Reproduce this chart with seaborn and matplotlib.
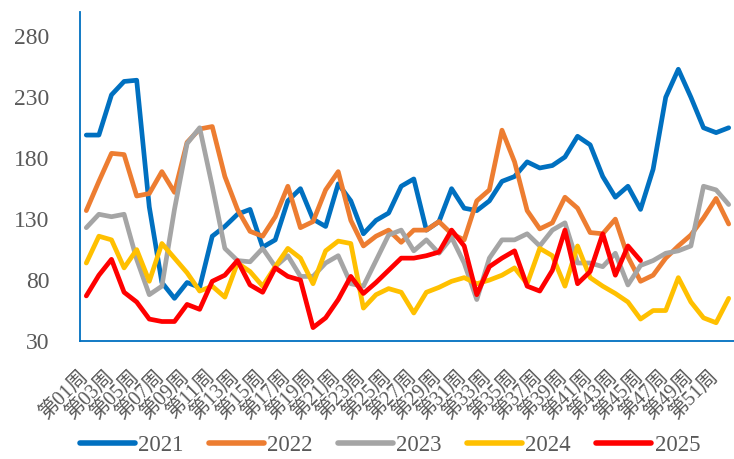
import matplotlib

matplotlib.use("Agg")
import matplotlib.pyplot as plt
import numpy as np
import pandas as pd
import seaborn as sns

weeks = [f"第{i:02d}周" for i in range(1, 53)]
years = ["2021", "2022", "2023", "2024", "2025"]

v2021 = [199, 199, 232, 243, 244, 140, 78, 65, 78, 74, 116, 124, 134, 138, 107, 113,
         145, 155, 130, 124, 159, 145, 118, 129, 135, 157, 163, 121, 128, 155, 139, 137,
         145, 161, 165, 177, 172, 174, 181, 198, 191, 165, 148, 157, 138, 171, 230, 253,
         230, 205, 201, 205]
v2022 = [137, 161, 184, 183, 149, 151, 169, 152, 193, 204, 206, 165, 138, 120, 116, 132,
         157, 123, 128, 154, 169, 129, 108, 116, 121, 111, 121, 121, 128, 118, 113, 145,
         154, 203, 177, 137, 122, 127, 148, 139, 119, 118, 130, 99, 79, 84, 98, 108,
         117, 131, 147, 126]
v2023 = [123, 134, 132, 134, 97, 68, 75, 138, 192, 205, 157, 106, 96, 95, 106, 91,
         100, 83, 83, 94, 100, 77, 75, 96, 117, 121, 104, 113, 102, 115, 94, 64,
         98, 113, 113, 118, 108, 121, 127, 94, 94, 91, 102, 76, 92, 96, 102, 104,
         108, 157, 154, 142]
v2024 = [94, 116, 113, 90, 105, 79, 110, 98, 86, 71, 75, 66, 94, 87, 75, 91,
         106, 98, 77, 104, 112, 110, 57, 68, 73, 70, 53, 70, 74, 79, 82, 77,
         80, 84, 90, 77, 106, 100, 75, 108, 82, 75, 69, 62, 48, 55, 55, 82,
         62, 49, 45, 65]
v2025 = [67, 84, 97, 70, 62, 48, 46, 46, 60, 56, 79, 84, 96, 76, 70, 90,
         83, 80, 41, 49, 64, 83, 69, 78, 88, 98, 98, 100, 103, 121, 108, 68,
         91, 98, 104, 75, 71, 88, 121, 77, 87, 118, 84, 108, 96]

colors = ["#0070C0", "#ED7D31", "#A5A5A5", "#FFC000", "#FF0000"]
text_color = "#595959"
axis_color = "#0070C0"

rows = []
for year, vals in zip(years, [v2021, v2022, v2023, v2024, v2025]):
    for i, v in enumerate(vals):
        rows.append({"week": i, "year": year, "value": v})
df = pd.DataFrame(rows)

sns.set_style("white")
plt.rcParams["font.family"] = ["Liberation Serif", "Noto Sans CJK SC"]

fig = plt.figure(figsize=(7.34, 4.59), dpi=100)
ax = fig.add_axes([80 / 734, 1 - 341 / 459, 655 / 734, 329 / 459])

sns.lineplot(
    data=df, x="week", y="value", hue="year", hue_order=years,
    palette=colors, linewidth=3.4, ax=ax, legend=False,
)

ax.set_xlim(-0.5, 51.5)
ax.set_ylim(30, 300)
ax.set_yticks([30, 80, 130, 180, 230, 280])
ax.set_xticks(range(0, 52, 2))
ax.set_xticklabels(weeks[::2], rotation=45, ha="right", va="center",
                   rotation_mode="anchor", fontsize=14.5, color=text_color)
ax.set_xticks(np.arange(-0.5, 52, 1), minor=True)
ax.tick_params(axis="x", which="major", length=0, pad=24)
ax.tick_params(axis="x", which="minor", direction="in", length=5,
               width=1.2, color=axis_color)
ax.tick_params(axis="y", direction="in", length=5, width=1.2,
               color=axis_color, labelsize=17, labelcolor=text_color, pad=22)
ax.set_xlabel("")
ax.set_ylabel("")

for side in ["top", "right"]:
    ax.spines[side].set_visible(False)
for side in ["left", "bottom"]:
    ax.spines[side].set_color(axis_color)
    ax.spines[side].set_linewidth(1.3)

handles = [plt.Line2D([], [], color=c, linewidth=4, solid_capstyle="round") for c in colors]
fig.legend(
    handles, years, loc="center", bbox_to_anchor=(390 / 734, 1 - 445 / 459),
    ncol=5, frameon=False, fontsize=16.5, handlelength=2.4, handletextpad=0.15,
    columnspacing=1.1, labelcolor=text_color,
)

fig.savefig("out.png", dpi=100)
plt.close(fig)
